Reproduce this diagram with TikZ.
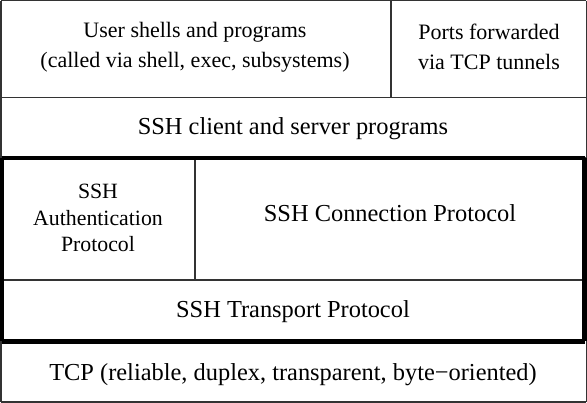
\documentclass[tikz,border=0pt]{standalone}
\usepackage{fontspec}
\setmainfont{Liberation Serif}
\usepackage{tikz}
\usetikzlibrary{backgrounds}
\tikzstyle{none}=[inner sep=0pt]
\tikzstyle{thin}=[-,draw=black!80,line width=1.5]
\tikzstyle{thick}=[-,draw=black,line width=4.5]
\tikzstyle{biglabel}=[align=center,font=\fontsize{24.4}{29}\selectfont]
\tikzstyle{toplabel}=[align=center,font=\fontsize{22}{30.5}\selectfont]
\tikzstyle{smalllabel}=[align=center,font=\fontsize{21.8}{26.7}\selectfont]
\pgfdeclarelayer{edgelayer}
\pgfdeclarelayer{nodelayer}
\pgfsetlayers{edgelayer,nodelayer,main}

\begin{document}
\begin{tikzpicture}[x=1pt,y=-1pt]
	\useasboundingbox (0,0) rectangle (587,403);
	\begin{pgfonlayer}{nodelayer}
		\node [style=none] (0) at (0.75, 0.75) {};
		\node [style=none] (1) at (586.25, 0.75) {};
		\node [style=none] (2) at (0.75, 97.5) {};
		\node [style=none] (3) at (586.25, 97.5) {};
		\node [style=none] (4) at (0.75, 158) {};
		\node [style=none] (5) at (586.25, 158) {};
		\node [style=none] (6) at (391, 0.75) {};
		\node [style=none] (7) at (391, 97.5) {};
		\node [style=none] (8) at (1.5, 158) {};
		\node [style=none] (9) at (584.5, 158) {};
		\node [style=none] (10) at (1.5, 341.5) {};
		\node [style=none] (11) at (584.5, 341.5) {};
		\node [style=none] (12) at (195, 158) {};
		\node [style=none] (13) at (195, 280) {};
		\node [style=none] (14) at (1.5, 280) {};
		\node [style=none] (15) at (584.5, 280) {};
		\node [style=none] (16) at (0.75, 341.5) {};
		\node [style=none] (17) at (586.25, 341.5) {};
		\node [style=none] (18) at (0.75, 402.25) {};
		\node [style=none] (19) at (586.25, 402.25) {};
		\node [style=toplabel] (20) at (195, 47) {User shells and programs\\(called via shell, exec, subsystems)};
		\node [style=toplabel] (21) at (489, 47) {Ports forwarded\\via TCP tunnels};
		\node [style=biglabel] (22) at (293, 129) {SSH client and server programs};
		\node [style=smalllabel] (23) at (98, 218) {SSH\\Authentication\\Protocol};
		\node [style=biglabel] (24) at (390, 213) {SSH Connection Protocol};
		\node [style=biglabel] (25) at (293, 312) {SSH Transport Protocol};
		\node [style=biglabel] (26) at (293, 375) {TCP (reliable, duplex, transparent, byte−oriented)};
	\end{pgfonlayer}
	\begin{pgfonlayer}{edgelayer}
		\draw [style=thin] (0.center) to (1.center);
		\draw [style=thin] (1.center) to (5.center);
		\draw [style=thin] (5.center) to (4.center);
		\draw [style=thin] (4.center) to (0.center);
		\draw [style=thin] (2.center) to (3.center);
		\draw [style=thin] (6.center) to (7.center);
		\draw [style=thin] (12.center) to (13.center);
		\draw [style=thin] (14.center) to (15.center);
		\draw [style=thin] (16.center) to (18.center);
		\draw [style=thin] (18.center) to (19.center);
		\draw [style=thin] (19.center) to (17.center);
		\draw [style=thick] (8.center) to (9.center);
		\draw [style=thick] (9.center) to (11.center);
		\draw [style=thick] (11.center) to (10.center);
		\draw [style=thick] (10.center) to (8.center);
	\end{pgfonlayer}
\end{tikzpicture}
\end{document}
